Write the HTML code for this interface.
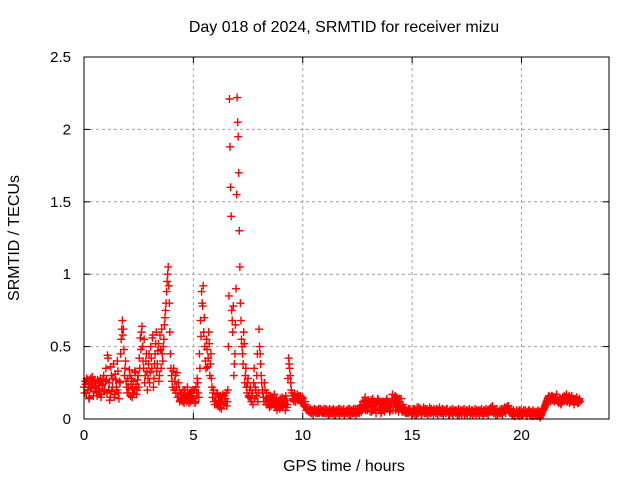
<!DOCTYPE html>
<html><head><meta charset="utf-8"><style>
body{margin:0;background:#fff}
svg{display:block;font-family:"Liberation Sans",sans-serif}
</style></head><body>
<svg id="chart" width="640" height="480">
<text x="344" y="32" text-anchor="middle" font-size="16">Day 018 of 2024, SRMTID for receiver mizu</text>
<text x="344" y="471" text-anchor="middle" font-size="16">GPS time / hours</text>
<text transform="translate(19,238) rotate(-90)" text-anchor="middle" font-size="16">SRMTID / TECUs</text>
<g id="grid"></g>
<g id="ticks"></g>
<g id="marks"></g>
<rect x="84" y="57" width="525" height="362" fill="none" stroke="#000" stroke-width="1"/>
</svg>
<script>
const xTicks=[0,5,10,15,20];
const yTicks=[0,0.5,1,1.5,2,2.5];
const yTickLabels=["0","0.5","1","1.5","2","2.5"];
const startHour=0, stepHour=0.05, startHourB=0.025;
const values=[
0.22,0.26,0.18,0.27,0.24,0.15,0.28,0.22,0.25,0.19,0.27,0.23,0.16,0.26,0.21,0.28,0.17,0.24,0.30,0.20,
0.35,0.18,0.42,0.25,0.15,0.30,0.22,0.38,0.17,0.27,0.20,0.33,0.14,0.25,0.55,0.68,0.62,0.30,0.40,0.22,
0.28,0.18,0.30,0.24,0.15,0.26,0.20,0.32,0.17,0.27,0.22,0.35,0.48,0.64,0.40,0.55,0.30,0.45,0.20,0.38,
0.25,0.50,0.35,0.58,0.28,0.45,0.60,0.38,0.52,0.30,0.48,0.62,0.40,0.55,0.70,0.80,0.95,1.05,0.80,0.45,
0.30,0.22,0.35,0.26,0.18,0.32,0.15,0.20,0.13,0.18,0.12,0.16,0.20,0.14,0.12,0.17,0.11,0.15,0.19,0.13,
0.16,0.20,0.12,0.18,0.25,0.15,0.35,0.57,0.80,0.92,0.70,0.40,0.55,0.36,0.60,0.30,0.45,0.22,0.18,0.12,
0.15,0.10,0.18,0.13,0.08,0.16,0.12,0.17,0.10,0.14,0.18,0.12,0.50,2.21,1.60,0.75,0.60,0.30,0.45,0.90,
2.22,1.95,1.30,0.80,0.55,0.45,0.60,0.25,0.35,0.18,0.28,0.15,0.22,0.12,0.18,0.25,0.14,0.20,0.30,0.12,
0.62,0.45,0.30,0.20,0.15,0.25,0.12,0.18,0.10,0.16,0.13,0.09,0.15,0.11,0.17,0.08,0.14,0.10,0.12,0.07,
0.12,0.15,0.09,0.14,0.06,0.13,0.10,0.42,0.35,0.25,0.18,0.14,0.12,0.16,0.14,0.17,0.15,0.13,0.16,0.12,
0.14,0.10,0.12,0.08,0.07,0.06,0.05,0.07,0.04,0.06,0.05,0.07,0.04,0.06,0.05,0.04,0.07,0.05,0.06,0.04,
0.05,0.07,0.04,0.06,0.03,0.05,0.06,0.04,0.07,0.05,0.03,0.06,0.04,0.05,0.07,0.04,0.06,0.05,0.03,0.05,
0.06,0.04,0.05,0.07,0.03,0.06,0.05,0.04,0.07,0.05,0.04,0.06,0.05,0.08,0.06,0.12,0.08,0.15,0.10,0.06,
0.13,0.08,0.11,0.05,0.14,0.09,0.12,0.04,0.10,0.13,0.07,0.11,0.05,0.09,0.12,0.06,0.10,0.14,0.08,0.12,
0.06,0.11,0.17,0.09,0.13,0.06,0.15,0.10,0.12,0.07,0.14,0.05,0.08,0.06,0.04,0.06,0.05,0.04,0.07,0.05,
0.06,0.04,0.07,0.05,0.03,0.06,0.08,0.05,0.07,0.04,0.06,0.05,0.07,0.04,0.06,0.05,0.08,0.04,0.06,0.05,
0.07,0.05,0.04,0.06,0.05,0.08,0.06,0.04,0.07,0.05,0.06,0.04,0.07,0.05,0.03,0.06,0.05,0.04,0.06,0.05,
0.04,0.06,0.05,0.03,0.05,0.04,0.06,0.05,0.03,0.05,0.04,0.06,0.05,0.03,0.04,0.06,0.05,0.04,0.05,0.06,
0.04,0.05,0.06,0.04,0.05,0.03,0.06,0.05,0.04,0.06,0.05,0.07,0.08,0.06,0.05,0.04,0.06,0.05,0.03,0.05,
0.06,0.04,0.05,0.07,0.05,0.06,0.08,0.06,0.09,0.07,0.05,0.04,0.03,0.05,0.02,0.04,0.05,0.03,0.06,0.04,
0.05,0.03,0.06,0.04,0.05,0.02,0.04,0.06,0.03,0.05,0.04,0.02,0.05,0.03,0.04,0.06,0.03,0.01,0.03,0.05,
0.06,0.08,0.10,0.12,0.14,0.16,0.15,0.13,0.16,0.14,0.12,0.15,0.17,0.13,0.11,0.14,0.10,0.12,0.14,0.16,
0.13,0.17,0.12,0.15,0.11,0.14,0.16,0.12,0.10,0.14,0.12,0.13,0.11,0.14
];
const valuesB=[
0.18,0.24,0.28,0.20,0.14,0.25,0.21,0.29,0.16,0.26,0.22,0.18,0.27,0.20,0.25,0.15,0.23,0.27,0.19,0.26,
0.27,0.44,0.20,0.13,0.36,0.19,0.28,0.15,0.31,0.22,0.40,0.18,0.26,0.45,0.62,0.58,0.48,0.35,0.26,0.18,
0.22,0.34,0.16,0.28,0.21,0.18,0.33,0.24,0.20,0.30,0.42,0.56,0.60,0.50,0.35,0.25,0.40,0.33,0.28,0.45,
0.32,0.42,0.56,0.22,0.38,0.52,0.33,0.47,0.26,0.58,0.35,0.45,0.50,0.65,0.75,0.88,1.00,0.92,0.60,0.35,
0.26,0.33,0.20,0.30,0.22,0.15,0.25,0.12,0.17,0.14,0.20,0.11,0.18,0.15,0.22,0.13,0.18,0.12,0.16,0.20,
0.14,0.11,0.22,0.28,0.18,0.45,0.68,0.88,0.78,0.60,0.50,0.35,0.48,0.42,0.52,0.38,0.28,0.15,0.20,0.10,
0.12,0.17,0.09,0.15,0.11,0.07,0.14,0.10,0.16,0.12,0.09,0.20,0.85,1.88,1.40,0.68,0.78,0.38,0.65,1.55,
2.05,1.70,1.05,0.68,0.50,0.38,0.52,0.30,0.22,0.25,0.16,0.20,0.14,0.18,0.10,0.35,0.22,0.16,0.45,0.18,
0.50,0.38,0.25,0.18,0.12,0.20,0.10,0.14,0.12,0.08,0.16,0.12,0.10,0.14,0.09,0.13,0.06,0.12,0.09,0.14,
0.10,0.08,0.13,0.11,0.16,0.08,0.28,0.38,0.30,0.20,0.16,0.13,0.17,0.12,0.15,0.13,0.16,0.14,0.11,0.15,
0.12,0.09,0.10,0.06,0.08,0.05,0.07,0.04,0.06,0.03,0.07,0.05,0.06,0.04,0.07,0.05,0.06,0.04,0.05,0.07,
0.04,0.06,0.05,0.03,0.07,0.04,0.05,0.06,0.03,0.06,0.05,0.04,0.07,0.03,0.05,0.06,0.04,0.07,0.05,0.04,
0.05,0.07,0.03,0.05,0.06,0.04,0.07,0.05,0.03,0.06,0.07,0.04,0.09,0.05,0.10,0.07,0.13,0.06,0.12,0.09,
0.10,0.05,0.13,0.08,0.06,0.12,0.07,0.11,0.14,0.06,0.10,0.04,0.12,0.08,0.05,0.11,0.13,0.07,0.10,0.05,
0.09,0.14,0.06,0.12,0.16,0.08,0.11,0.05,0.14,0.09,0.06,0.10,0.05,0.07,0.05,0.04,0.07,0.06,0.05,0.03,
0.05,0.07,0.03,0.06,0.08,0.04,0.05,0.07,0.03,0.06,0.08,0.04,0.05,0.07,0.03,0.06,0.04,0.07,0.05,0.03,
0.06,0.04,0.07,0.03,0.06,0.04,0.05,0.07,0.03,0.06,0.04,0.07,0.05,0.03,0.06,0.04,0.07,0.03,0.05,0.06,
0.05,0.03,0.07,0.04,0.06,0.03,0.05,0.07,0.04,0.06,0.03,0.05,0.07,0.04,0.06,0.03,0.05,0.07,0.03,0.05,
0.06,0.03,0.05,0.07,0.04,0.06,0.04,0.07,0.05,0.03,0.06,0.05,0.06,0.09,0.04,0.06,0.03,0.07,0.05,0.04,
0.04,0.07,0.03,0.05,0.08,0.04,0.06,0.09,0.05,0.04,0.07,0.03,0.06,0.02,0.04,0.06,0.03,0.05,0.02,0.06,
0.03,0.05,0.04,0.06,0.03,0.05,0.06,0.03,0.05,0.02,0.06,0.04,0.03,0.05,0.02,0.04,0.05,0.02,0.04,0.07,
0.07,0.09,0.11,0.13,0.15,0.14,0.12,0.16,0.13,0.15,0.14,0.13,0.15,0.12,0.13,0.12,0.11,0.15,0.13,0.14,
0.15,0.12,0.14,0.16,0.13,0.15,0.13,0.14,0.12,0.13,0.15,0.11,0.13,0.12
];
const NS="http://www.w3.org/2000/svg";
const X0=84,X1=609,Y0=419,Y1=57,XMAX=24,YMAX=2.5;
function xs(v){return X0+(X1-X0)*v/XMAX;}
function ys(v){return Y0-(Y0-Y1)*v/YMAX;}
const grid=document.getElementById('grid'),ticks=document.getElementById('ticks'),marks=document.getElementById('marks');
function el(tag,attrs,parent){const e=document.createElementNS(NS,tag);for(const k in attrs)e.setAttribute(k,attrs[k]);parent.appendChild(e);return e;}
xTicks.forEach(t=>{
  const x=xs(t);
  if(t>0){const g=el('line',{x1:x,x2:x,y1:Y0,y2:Y1,stroke:'#a0a0a0','stroke-dasharray':'3,3'},grid);
  
  }
  el('line',{x1:x,x2:x,y1:Y0,y2:Y0-6,stroke:'#000'},ticks);
  el('line',{x1:x,x2:x,y1:Y1,y2:Y1+6,stroke:'#000'},ticks);
  const l=el('text',{x:x,y:Y0+21,'text-anchor':'middle','font-size':15},ticks);l.textContent=t;
  
  
});
yTicks.forEach((t,i)=>{
  const y=ys(t);
  if(t>0&&t<YMAX){const g=el('line',{x1:X0,x2:X1,y1:y,y2:y,stroke:'#a0a0a0','stroke-dasharray':'3,3'},grid);
  
  }
  el('line',{x1:X0,x2:X0+6,y1:y,y2:y,stroke:'#000'},ticks);
  el('line',{x1:X1,x2:X1-6,y1:y,y2:y,stroke:'#000'},ticks);
  const l=el('text',{x:X0-13,y:y+5,'text-anchor':'end','font-size':15},ticks);l.textContent=yTickLabels[i];
  
  
});
let d='';
values.forEach((v,i)=>{
  const x=xs(startHour+i*stepHour),y=ys(v);
  d+='M'+(x-4)+' '+y+'h8M'+x+' '+(y-4)+'v8';
});
valuesB.forEach((v,i)=>{
  const x=xs(startHourB+i*stepHour),y=ys(v);
  d+='M'+(x-4)+' '+y+'h8M'+x+' '+(y-4)+'v8';
});
const p=el('path',{d:d,stroke:'#ff0000','stroke-width':1.4,fill:'none'},marks);


</script>
</body></html>
